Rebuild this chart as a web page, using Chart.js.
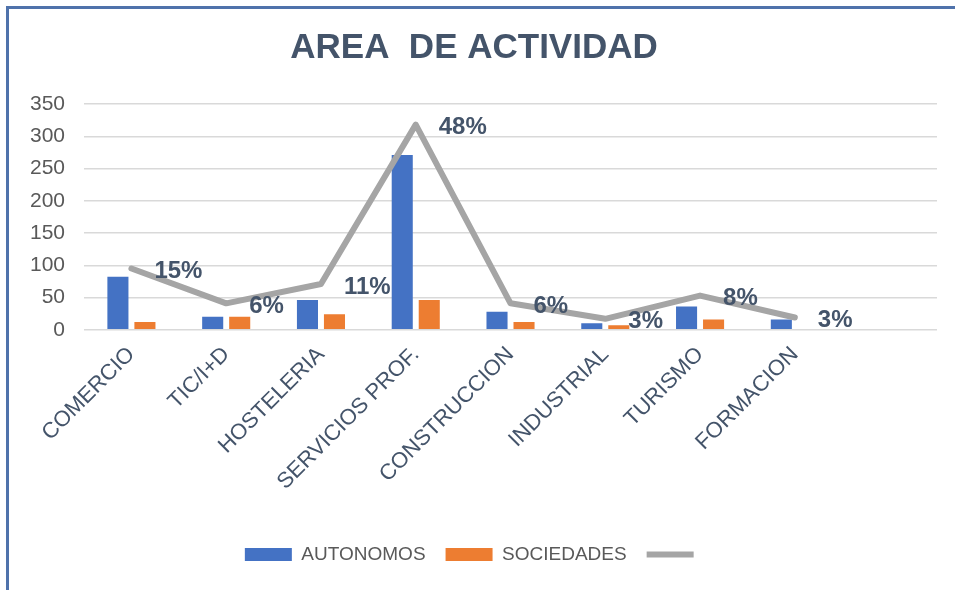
<!DOCTYPE html>
<html>
<head>
<meta charset="utf-8">
<script src="https://cdn.jsdelivr.net/npm/chart.js@4"></script>
<style>
  body { margin: 0; background: #fff; }
  #caja { position: relative; width: 955px; height: 590px; overflow: hidden; }
  #marco { position: absolute; left: 6px; top: 6px; width: 1200px; height: 1200px;
           border-top: 3px solid #4f72ab; border-left: 3px solid #4f72ab; pointer-events: none; }
</style>
</head>
<body>
<div id="caja">
  <canvas id="grafico" width="955" height="590"></canvas>
  <div id="marco"></div>
</div>
<script>
const categorias = ["COMERCIO", "TIC/I+D", "HOSTELERIA", "SERVICIOS PROF.", "CONSTRUCCION", "INDUSTRIAL", "TURISMO", "FORMACION", ""];
const autonomos = [82, 20, 46, 271, 28, 10, 36, 16, null];
const sociedades = [12, 20, 24, 46, 12, 7, 16, 0, null];
const totales = [95, 41, 71, 318, 41, 17, 53, 19, null];
const porcentajes = ["15%", "6%", "11%", "48%", "6%", "3%", "8%", "3%", ""];
const ticksY = [0, 50, 100, 150, 200, 250, 300, 350];

const fuente = '"Liberation Sans", Arial, sans-serif';

// etiquetas de porcentaje a la derecha de cada punto de la linea
const etiquetasPlugin = {
  id: "etiquetas",
  afterDatasetsDraw(chart) {
    const meta = chart.getDatasetMeta(2);
    const ctx = chart.ctx;
    ctx.save();
    ctx.font = "bold 24px " + fuente;
    ctx.fillStyle = "#44546A";
    ctx.textAlign = "left";
    ctx.textBaseline = "middle";
    meta.data.forEach((punto, i) => {
      if (porcentajes[i]) ctx.fillText(porcentajes[i], punto.x + 23, punto.y + 3);
    });
    ctx.restore();
  }
};

new Chart(document.getElementById("grafico"), {
  type: "bar",
  data: {
    labels: categorias,
    datasets: [
      {
        label: "AUTONOMOS",
        data: autonomos,
        backgroundColor: "#4472C4",
        borderWidth: 0,
        pointStyle: "rect",
        order: 1,
        barPercentage: 0.78,
        categoryPercentage: 0.57,
      },
      {
        label: "SOCIEDADES",
        data: sociedades,
        backgroundColor: "#ED7D31",
        borderWidth: 0,
        pointStyle: "rect",
        order: 2,
        barPercentage: 0.78,
        categoryPercentage: 0.57,
      },
      {
        type: "line",
        label: "",
        data: totales,
        borderColor: "#A5A5A5",
        backgroundColor: "#A5A5A5",
        borderWidth: 6,
        borderCapStyle: "round",
        borderJoinStyle: "round",
        pointRadius: 0,
        pointStyle: "line",
        tension: 0,
        order: 0,
      },
    ],
  },
  options: {
    responsive: false,
    animation: false,
    layout: { padding: { left: 11, right: 18, top: 0, bottom: 16 } },
    plugins: {
      title: {
        display: true,
        text: "AREA  DE ACTIVIDAD",
        color: "#44546A",
        font: { family: fuente, size: 35, weight: "bold" },
        padding: { top: 27, bottom: 35 },
      },
      legend: {
        position: "bottom",
        labels: {
          usePointStyle: true,
          pointStyleWidth: 47,
          boxHeight: 13,
          color: "#595959",
          font: { family: fuente, size: 19 },
          padding: 20,
          sort: (a, b) => a.datasetIndex - b.datasetIndex,
        },
      },
      tooltip: { enabled: false },
    },
    scales: {
      x: {
        grid: { display: false },
        border: { display: false },
        ticks: {
          color: "#44546A",
          font: { family: fuente, size: 22 },
          minRotation: 45,
          maxRotation: 45,
          autoSkip: false,
          padding: 4,
        },
        afterFit: (escala) => {
          escala.paddingLeft = 0;
          escala.height += 26;
        },
      },
      y: {
        min: 0,
        max: 350,
        afterBuildTicks: (escala) => { escala.ticks = ticksY.map((v) => ({ value: v })); },
        grid: { color: "#D9D9D9", lineWidth: 1.5, drawTicks: false },
        border: { display: false },
        ticks: {
          color: "#595959",
          font: { family: fuente, size: 21 },
          padding: 19,
        },
      },
    },
  },
  plugins: [etiquetasPlugin],
});
</script>
</body>
</html>
